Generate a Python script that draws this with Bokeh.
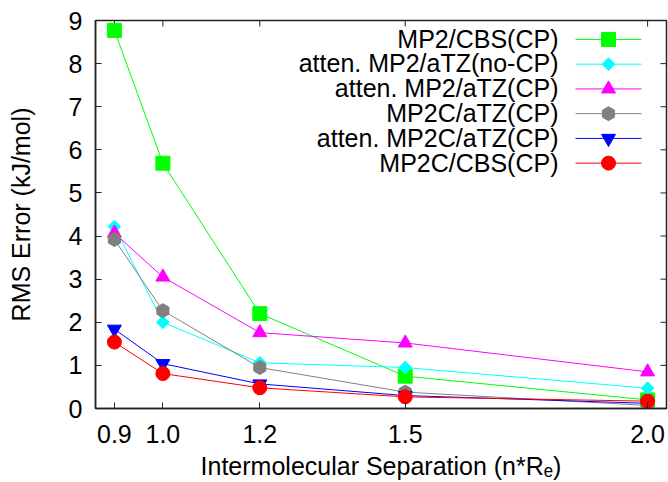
import math
from bokeh.plotting import figure
from bokeh.models import Range1d, FixedTicker, Label
from bokeh.embed import file_html
from bokeh.resources import INLINE

# ---- data ----
separation = [0.9, 1.0, 1.2, 1.5, 2.0]
x_tick_labels = ["0.9", "1.0", "1.2", "1.5", "2.0"]
y_ticks = [0, 1, 2, 3, 4, 5, 6, 7, 8, 9]
x_start, x_end = 0.861, 2.039
y_start, y_end = 0, 9

mp2_cbs_cp = [8.77, 5.69, 2.20, 0.75, 0.20]
atten_mp2_atz_nocp = [4.22, 2.00, 1.06, 0.95, 0.47]
atten_mp2_atz_cp = [4.07, 3.05, 1.76, 1.52, 0.85]
mp2c_atz_cp = [3.92, 2.27, 0.95, 0.38, 0.07]
atten_mp2c_atz_cp = [1.84, 1.04, 0.57, 0.30, 0.12]
mp2c_cbs_cp = [1.54, 0.81, 0.48, 0.27, 0.17]

series_names = ["MP2/CBS(CP)", "atten. MP2/aTZ(no-CP)", "atten. MP2/aTZ(CP)",
                "MP2C/aTZ(CP)", "atten. MP2C/aTZ(CP)", "MP2C/CBS(CP)"]
series_values = [mp2_cbs_cp, atten_mp2_atz_nocp, atten_mp2_atz_cp,
                 mp2c_atz_cp, atten_mp2c_atz_cp, mp2c_cbs_cp]
series_colors = ["#00ff00", "#00ffff", "#ff00ff", "#808080", "#0000ff", "#ff0000"]
series_markers = ["square", "square", "triangle", "hex", "inverted_triangle", "circle"]
marker_sizes = [14, 9, 14, 14, 14, 14]
marker_angles = [0, math.pi / 4, 0, math.pi / 6, 0, 0]

FONT = "Liberation Sans"
FS = "25px"
DARK = "#222222"

# ---- layout (pixels) ----
W, H = 668, 482
BL, BR, BT, BB = 95, 2, 20, 73
FW, FH = W - BL - BR, H - BT - BB          # frame size in px
LEG_TEXT_RIGHT = 463                       # px from frame left
LEG_LINE_X0, LEG_LINE_X1 = 480, 546        # px from frame left
LEG_TOP, LEG_ROW = 19, 24.8                # px from frame top, row pitch


def sx_to_data(px):
    return x_start + px / FW * (x_end - x_start)


def sy_to_data(px_from_top):
    return y_end - px_from_top / FH * (y_end - y_start)


p = figure(width=W, height=H, output_backend="svg", toolbar_location=None,
           x_range=Range1d(x_start, x_end), y_range=Range1d(y_start, y_end),
           min_border_left=BL, min_border_top=BT, min_border_bottom=BB,
           min_border_right=BR)
p.background_fill_color = "white"
p.border_fill_color = "white"
p.grid.visible = False
p.outline_line_color = DARK
p.outline_line_width = 1.5

# axes
xa = p.xaxis[0]
xa.ticker = FixedTicker(ticks=separation)
xa.major_label_overrides = {v: s for v, s in zip(separation, x_tick_labels)}
xa.axis_label = "Intermolecular Separation (n*R\u2091)"
ya = p.yaxis[0]
ya.ticker = FixedTicker(ticks=y_ticks)
ya.axis_label = "RMS Error (kJ/mol)"
for ax in (xa, ya):
    ax.major_tick_in = 6
    ax.major_tick_out = 0
    ax.minor_tick_line_color = None
    ax.major_tick_line_color = DARK
    ax.axis_line_color = DARK
    ax.axis_line_width = 1.5
    ax.major_label_text_font = FONT
    ax.major_label_text_font_size = FS
    ax.major_label_text_color = "black"
    ax.axis_label_text_font = FONT
    ax.axis_label_text_font_size = FS
    ax.axis_label_text_font_style = "normal"
    ax.axis_label_text_color = "black"
xa.major_label_standoff = 16
xa.axis_label_standoff = 6
ya.major_label_standoff = 13
ya.axis_label_standoff = 31

# mirrored ticks on the top and right border (outer half is clipped by the frame)
p.scatter(separation, [y_end] * len(separation), marker="dash", angle=math.pi / 2,
          size=12, line_color=DARK, line_width=1)
p.scatter([x_end] * len(y_ticks), y_ticks, marker="dash", size=12,
          line_color=DARK, line_width=1)

# data series
for vals, col, mk, ms, ang in zip(series_values, series_colors, series_markers,
                                  marker_sizes, marker_angles):
    p.line(separation, vals, line_color=col, line_width=1)
    p.scatter(separation, vals, marker=mk, size=ms, angle=ang,
              fill_color=col, line_color=col)

# key: text right-aligned, sample (line + marker) to its right
lx0, lx1 = sx_to_data(LEG_LINE_X0), sx_to_data(LEG_LINE_X1)
lxm = (lx0 + lx1) / 2
for i, (name, col, mk, ms, ang) in enumerate(zip(series_names, series_colors,
                                                 series_markers, marker_sizes,
                                                 marker_angles)):
    row_px = LEG_TOP + i * LEG_ROW
    ly = sy_to_data(row_px)
    p.line([lx0, lx1], [ly, ly], line_color=col, line_width=1)
    p.scatter([lxm], [ly], marker=mk, size=ms, angle=ang,
              fill_color=col, line_color=col)
    p.add_layout(Label(x=LEG_TEXT_RIGHT, y=FH - row_px, x_units="screen",
                       y_units="screen", text=name, text_align="right",
                       text_baseline="middle", text_font=FONT,
                       text_font_size=FS, text_color="black"))

open("out.html", "w").write(file_html(p, INLINE))
